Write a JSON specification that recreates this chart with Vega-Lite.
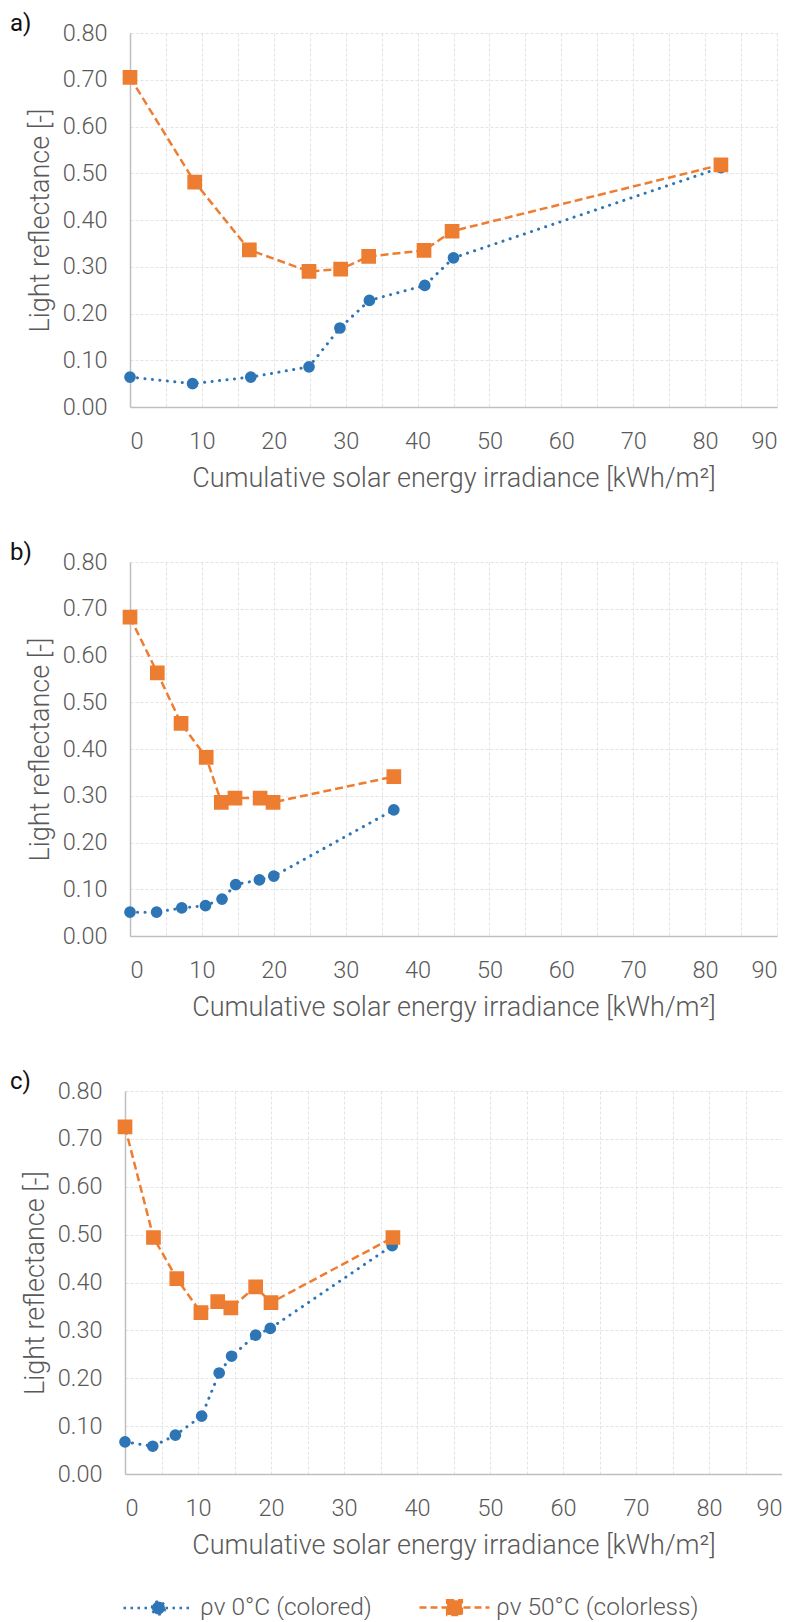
{
  "$schema": "https://vega.github.io/schema/vega-lite/v6.json",
  "background": "white",
  "padding": {"left": 10, "top": 12, "right": 0, "bottom": 0},
  "config": {
    "font": "Roboto",
    "view": {"stroke": null},
    "axis": {
      "grid": true,
      "gridColor": "#E3E3E3",
      "gridDash": [3, 2],
      "gridWidth": 1,
      "domainColor": "#BFBFBF",
      "domainWidth": 1.5,
      "ticks": false,
      "labelFont": "Roboto",
      "labelFontWeight": 300,
      "labelFontSize": 23.5,
      "labelColor": "#595959",
      "titleFont": "Roboto",
      "titleFontWeight": 300,
      "titleFontSize": 27,
      "titleColor": "#595959"
    },
    "axisX": {"values": [0,10,20,30,40,50,60,70,80,90], "labelPadding": 22, "titlePadding": 13},
    "axisY": {"values": [0,0.1,0.2,0.3,0.4,0.5,0.6,0.7,0.8], "format": ".2f", "labelPadding": 23, "titlePadding": 8},
    "title": {"font": "Roboto", "fontSize": 24, "fontWeight": 400, "color": "#111111", "anchor": "start", "frame": "group", "offset": 0}
  },
  "datasets": {
    "d": [
      {"panel": "a", "series": "ρv 0°C (colored)", "x": 0, "y": 0.064},
      {"panel": "a", "series": "ρv 0°C (colored)", "x": 8.7, "y": 0.050},
      {"panel": "a", "series": "ρv 0°C (colored)", "x": 16.8, "y": 0.064},
      {"panel": "a", "series": "ρv 0°C (colored)", "x": 24.9, "y": 0.086},
      {"panel": "a", "series": "ρv 0°C (colored)", "x": 29.2, "y": 0.169},
      {"panel": "a", "series": "ρv 0°C (colored)", "x": 33.3, "y": 0.228},
      {"panel": "a", "series": "ρv 0°C (colored)", "x": 41.0, "y": 0.260},
      {"panel": "a", "series": "ρv 0°C (colored)", "x": 45.0, "y": 0.319},
      {"panel": "a", "series": "ρv 0°C (colored)", "x": 82.2, "y": 0.512},
      {"panel": "a", "series": "ρv 50°C (colorless)", "x": 0, "y": 0.705},
      {"panel": "a", "series": "ρv 50°C (colorless)", "x": 9.0, "y": 0.481},
      {"panel": "a", "series": "ρv 50°C (colorless)", "x": 16.6, "y": 0.336},
      {"panel": "a", "series": "ρv 50°C (colorless)", "x": 24.9, "y": 0.290},
      {"panel": "a", "series": "ρv 50°C (colorless)", "x": 29.3, "y": 0.295},
      {"panel": "a", "series": "ρv 50°C (colorless)", "x": 33.2, "y": 0.322},
      {"panel": "a", "series": "ρv 50°C (colorless)", "x": 40.9, "y": 0.335},
      {"panel": "a", "series": "ρv 50°C (colorless)", "x": 44.8, "y": 0.376},
      {"panel": "a", "series": "ρv 50°C (colorless)", "x": 82.2, "y": 0.518},
      {"panel": "b", "series": "ρv 0°C (colored)", "x": 0, "y": 0.051},
      {"panel": "b", "series": "ρv 0°C (colored)", "x": 3.7, "y": 0.051},
      {"panel": "b", "series": "ρv 0°C (colored)", "x": 7.2, "y": 0.060},
      {"panel": "b", "series": "ρv 0°C (colored)", "x": 10.5, "y": 0.065},
      {"panel": "b", "series": "ρv 0°C (colored)", "x": 12.8, "y": 0.079},
      {"panel": "b", "series": "ρv 0°C (colored)", "x": 14.7, "y": 0.110},
      {"panel": "b", "series": "ρv 0°C (colored)", "x": 18.0, "y": 0.120},
      {"panel": "b", "series": "ρv 0°C (colored)", "x": 20.0, "y": 0.128},
      {"panel": "b", "series": "ρv 0°C (colored)", "x": 36.7, "y": 0.270},
      {"panel": "b", "series": "ρv 50°C (colorless)", "x": 0, "y": 0.682},
      {"panel": "b", "series": "ρv 50°C (colorless)", "x": 3.8, "y": 0.563},
      {"panel": "b", "series": "ρv 50°C (colorless)", "x": 7.1, "y": 0.455},
      {"panel": "b", "series": "ρv 50°C (colorless)", "x": 10.6, "y": 0.382},
      {"panel": "b", "series": "ρv 50°C (colorless)", "x": 12.7, "y": 0.286},
      {"panel": "b", "series": "ρv 50°C (colorless)", "x": 14.6, "y": 0.295},
      {"panel": "b", "series": "ρv 50°C (colorless)", "x": 18.1, "y": 0.295},
      {"panel": "b", "series": "ρv 50°C (colorless)", "x": 19.9, "y": 0.286},
      {"panel": "b", "series": "ρv 50°C (colorless)", "x": 36.7, "y": 0.341},
      {"panel": "c", "series": "ρv 0°C (colored)", "x": 0, "y": 0.067},
      {"panel": "c", "series": "ρv 0°C (colored)", "x": 3.8, "y": 0.058},
      {"panel": "c", "series": "ρv 0°C (colored)", "x": 6.9, "y": 0.081},
      {"panel": "c", "series": "ρv 0°C (colored)", "x": 10.5, "y": 0.121},
      {"panel": "c", "series": "ρv 0°C (colored)", "x": 12.9, "y": 0.211},
      {"panel": "c", "series": "ρv 0°C (colored)", "x": 14.6, "y": 0.246},
      {"panel": "c", "series": "ρv 0°C (colored)", "x": 17.9, "y": 0.290},
      {"panel": "c", "series": "ρv 0°C (colored)", "x": 19.9, "y": 0.304},
      {"panel": "c", "series": "ρv 0°C (colored)", "x": 36.6, "y": 0.477},
      {"panel": "c", "series": "ρv 50°C (colorless)", "x": 0, "y": 0.725},
      {"panel": "c", "series": "ρv 50°C (colorless)", "x": 3.9, "y": 0.494},
      {"panel": "c", "series": "ρv 50°C (colorless)", "x": 7.1, "y": 0.408},
      {"panel": "c", "series": "ρv 50°C (colorless)", "x": 10.4, "y": 0.337},
      {"panel": "c", "series": "ρv 50°C (colorless)", "x": 12.7, "y": 0.360},
      {"panel": "c", "series": "ρv 50°C (colorless)", "x": 14.5, "y": 0.347},
      {"panel": "c", "series": "ρv 50°C (colorless)", "x": 17.9, "y": 0.391},
      {"panel": "c", "series": "ρv 50°C (colorless)", "x": 20.0, "y": 0.358},
      {"panel": "c", "series": "ρv 50°C (colorless)", "x": 36.7, "y": 0.494}
    ]
  },
  "bounds": "flush",
  "center": true,
  "spacing": 155,
  "resolve": {"scale": {"fill": "shared", "stroke": "shared"}, "legend": {"fill": "shared", "stroke": "shared"}},
  "vconcat": [
    {
      "width": 647, "height": 374,
      "title": {"text": "a)", "dx": -120, "dy": 19},
      "data": {"name": "d"},
      "transform": [{"filter": "datum.panel === 'a'"}],
      "encoding": {
        "x": {"field": "x", "type": "quantitative", "scale": {"domain": [0, 90], "nice": false}, "axis": {"title": "Cumulative solar energy irradiance [kWh/m²]"}},
        "y": {"field": "y", "type": "quantitative", "scale": {"domain": [0, 0.8], "nice": false}, "axis": {"title": "Light reflectance [-]"}}
      },
      "layer": [
        {"transform": [{"filter": "datum.series === 'ρv 0°C (colored)'"}], "mark": {"type": "line", "color": "#2E75B6", "strokeWidth": 3, "strokeDash": [0.1, 7.4], "strokeCap": "round"}},
        {"transform": [{"filter": "datum.series === 'ρv 0°C (colored)'"}], "mark": {"type": "point", "shape": "circle", "size": 104, "filled": true, "opacity": 1, "strokeWidth": 1.5},
         "encoding": {
           "fill": {"field": "series", "type": "nominal", "scale": {"domain": ["ρv 0°C (colored)", "ρv 50°C (colorless)"], "range": ["#2E75B6", "#ED7D31"]},
             "legend": {"orient": "none", "legendX": -3, "legendY": 1538, "padding": 0, "direction": "horizontal", "title": null,
               "symbolType": {"expr": "datum.index === 0 ? 'M-1,0L1,0M-0.185,0A0.185,0.185,0,1,1,0.185,0A0.185,0.185,0,1,1,-0.185,0Z' : 'M-1,0L1,0M-0.21,-0.21L0.21,-0.21L0.21,0.21L-0.21,0.21Z'"},
               "symbolDash": {"expr": "datum.index === 0 ? [2.5, 4.5] : [7, 4]"},
               "symbolStrokeWidth": 2.5, "symbolSize": 4900, "labelFontSize": 24.5, "labelFont": "Roboto", "labelFontWeight": 300, "labelColor": "#595959", "labelOffset": 5, "labelLimit": 400, "columnPadding": 42}},
           "stroke": {"field": "series", "type": "nominal", "scale": {"domain": ["ρv 0°C (colored)", "ρv 50°C (colorless)"], "range": ["#2E75B6", "#ED7D31"]},
             "legend": {"orient": "none", "legendX": -3, "legendY": 1538, "padding": 0, "direction": "horizontal", "title": null,
               "symbolType": {"expr": "datum.index === 0 ? 'M-1,0L1,0M-0.185,0A0.185,0.185,0,1,1,0.185,0A0.185,0.185,0,1,1,-0.185,0Z' : 'M-1,0L1,0M-0.21,-0.21L0.21,-0.21L0.21,0.21L-0.21,0.21Z'"},
               "symbolDash": {"expr": "datum.index === 0 ? [2.5, 4.5] : [7, 4]"},
               "symbolStrokeWidth": 2.5, "symbolSize": 4900, "labelFontSize": 24.5, "labelFont": "Roboto", "labelFontWeight": 300, "labelColor": "#595959", "labelOffset": 5, "labelLimit": 400, "columnPadding": 42}}
         }},
        {"transform": [{"filter": "datum.series === 'ρv 50°C (colorless)'"}], "mark": {"type": "line", "color": "#ED7D31", "strokeWidth": 2.5, "strokeDash": [8, 4]}},
        {"transform": [{"filter": "datum.series === 'ρv 50°C (colorless)'"}], "mark": {"type": "point", "shape": "square", "size": 174, "filled": true, "opacity": 1, "strokeWidth": 1.5},
         "encoding": {
           "fill": {"field": "series", "type": "nominal", "scale": {"domain": ["ρv 0°C (colored)", "ρv 50°C (colorless)"], "range": ["#2E75B6", "#ED7D31"]}},
           "stroke": {"field": "series", "type": "nominal", "scale": {"domain": ["ρv 0°C (colored)", "ρv 50°C (colorless)"], "range": ["#2E75B6", "#ED7D31"]}}
         }}
      ]
    },
    {
      "width": 647, "height": 374,
      "title": {"text": "b)", "dx": -120, "dy": 19},
      "data": {"name": "d"},
      "transform": [{"filter": "datum.panel === 'b'"}],
      "encoding": {
        "x": {"field": "x", "type": "quantitative", "scale": {"domain": [0, 90], "nice": false}, "axis": {"title": "Cumulative solar energy irradiance [kWh/m²]"}},
        "y": {"field": "y", "type": "quantitative", "scale": {"domain": [0, 0.8], "nice": false}, "axis": {"title": "Light reflectance [-]"}}
      },
      "layer": [
        {"transform": [{"filter": "datum.series === 'ρv 0°C (colored)'"}], "mark": {"type": "line", "color": "#2E75B6", "strokeWidth": 3, "strokeDash": [0.1, 7.4], "strokeCap": "round"}},
        {"transform": [{"filter": "datum.series === 'ρv 0°C (colored)'"}], "mark": {"type": "point", "shape": "circle", "size": 104, "filled": true, "opacity": 1, "strokeWidth": 1.5},
         "encoding": {
           "fill": {"field": "series", "type": "nominal", "scale": {"domain": ["ρv 0°C (colored)", "ρv 50°C (colorless)"], "range": ["#2E75B6", "#ED7D31"]}},
           "stroke": {"field": "series", "type": "nominal", "scale": {"domain": ["ρv 0°C (colored)", "ρv 50°C (colorless)"], "range": ["#2E75B6", "#ED7D31"]}}
         }},
        {"transform": [{"filter": "datum.series === 'ρv 50°C (colorless)'"}], "mark": {"type": "line", "color": "#ED7D31", "strokeWidth": 2.5, "strokeDash": [8, 4]}},
        {"transform": [{"filter": "datum.series === 'ρv 50°C (colorless)'"}], "mark": {"type": "point", "shape": "square", "size": 174, "filled": true, "opacity": 1, "strokeWidth": 1.5},
         "encoding": {
           "fill": {"field": "series", "type": "nominal", "scale": {"domain": ["ρv 0°C (colored)", "ρv 50°C (colorless)"], "range": ["#2E75B6", "#ED7D31"]}},
           "stroke": {"field": "series", "type": "nominal", "scale": {"domain": ["ρv 0°C (colored)", "ρv 50°C (colorless)"], "range": ["#2E75B6", "#ED7D31"]}}
         }}
      ]
    },
    {
      "width": 657, "height": 383,
      "title": {"text": "c)", "dx": -115, "dy": 19},
      "data": {"name": "d"},
      "transform": [{"filter": "datum.panel === 'c'"}],
      "encoding": {
        "x": {"field": "x", "type": "quantitative", "scale": {"domain": [0, 90], "nice": false}, "axis": {"title": "Cumulative solar energy irradiance [kWh/m²]"}},
        "y": {"field": "y", "type": "quantitative", "scale": {"domain": [0, 0.8], "nice": false}, "axis": {"title": "Light reflectance [-]"}}
      },
      "layer": [
        {"transform": [{"filter": "datum.series === 'ρv 0°C (colored)'"}], "mark": {"type": "line", "color": "#2E75B6", "strokeWidth": 3, "strokeDash": [0.1, 7.4], "strokeCap": "round"}},
        {"transform": [{"filter": "datum.series === 'ρv 0°C (colored)'"}], "mark": {"type": "point", "shape": "circle", "size": 104, "filled": true, "opacity": 1, "strokeWidth": 1.5},
         "encoding": {
           "fill": {"field": "series", "type": "nominal", "scale": {"domain": ["ρv 0°C (colored)", "ρv 50°C (colorless)"], "range": ["#2E75B6", "#ED7D31"]}},
           "stroke": {"field": "series", "type": "nominal", "scale": {"domain": ["ρv 0°C (colored)", "ρv 50°C (colorless)"], "range": ["#2E75B6", "#ED7D31"]}}
         }},
        {"transform": [{"filter": "datum.series === 'ρv 50°C (colorless)'"}], "mark": {"type": "line", "color": "#ED7D31", "strokeWidth": 2.5, "strokeDash": [8, 4]}},
        {"transform": [{"filter": "datum.series === 'ρv 50°C (colorless)'"}], "mark": {"type": "point", "shape": "square", "size": 174, "filled": true, "opacity": 1, "strokeWidth": 1.5},
         "encoding": {
           "fill": {"field": "series", "type": "nominal", "scale": {"domain": ["ρv 0°C (colored)", "ρv 50°C (colorless)"], "range": ["#2E75B6", "#ED7D31"]}},
           "stroke": {"field": "series", "type": "nominal", "scale": {"domain": ["ρv 0°C (colored)", "ρv 50°C (colorless)"], "range": ["#2E75B6", "#ED7D31"]}}
         }}
      ]
    }
  ]
}
